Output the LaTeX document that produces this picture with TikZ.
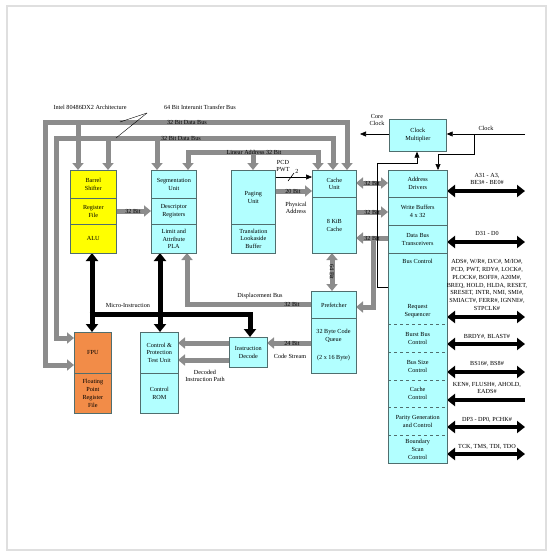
\documentclass[tikz,border=0pt]{standalone}
\usepackage{fontspec}
\setmainfont{Liberation Serif}
\usetikzlibrary{arrows.meta,calc}
\definecolor{cy}{RGB}{178,255,255}
\definecolor{yl}{RGB}{255,255,0}
\definecolor{orng}{RGB}{242,140,72}
\definecolor{bord}{RGB}{80,110,110}
\definecolor{busc}{RGB}{140,140,140}
\tikzset{
  GT/.tip={Triangle[width=11pt,length=7pt]},
  BT/.tip={Triangle[width=12pt,length=8pt]},
  TT/.tip={Triangle[width=5pt,length=6pt]},
}
\begin{document}
\begin{tikzpicture}[x=1pt,y=-1pt,
  every node/.style={font=\fontsize{6.2}{7.7}\selectfont, inner sep=0pt, align=center},
  sec/.style={draw=bord, line width=0.7pt, anchor=north west},
  nsec/.style={anchor=north west},
  gbus/.style={draw=busc, line width=5pt},
  kbus/.style={draw=black, line width=5pt},
  kio/.style={draw=black, line width=4pt},
  thin/.style={draw=black, line width=0.6pt},
]
\useasboundingbox (0,0) rectangle (553,557);
\draw[gray!25, line width=1.4pt] (7,6) rectangle (546,550);

% ---------- grey buses ----------
\coordinate (o1) at (45,122);
\coordinate (o2) at (347,122);
\coordinate (o3) at (45,365);
\coordinate (i1) at (56,138);
\coordinate (i2) at (333,138);
\coordinate (i3) at (56,338);
\coordinate (la1) at (188,152);
\coordinate (la2) at (318,152);

\draw[gbus, GT-GT] (74,365) -- (o3) -- (o1) -- (o2) -- (347,170);
\draw[gbus, -GT] (78,122) -- (78,170);
\draw[gbus, GT-GT] (74,338) -- (i3) -- (i1) -- (i2) -- (333,170);
\draw[gbus, -GT] (108,138) -- (108,170);
\draw[gbus, -GT] (157,138) -- (157,170);
\draw[gbus, GT-GT] (188,170) -- (la1) -- (la2) -- (318,170);
\draw[gbus, -GT] (253,152) -- (253,170);

\draw[gbus, -GT] (116,211) -- (151,211);
\draw[gbus, -GT] (275,191) -- (312,191);
\draw[gbus, GT-GT] (356,183) -- (388,183);
\draw[gbus, -GT] (356,212) -- (388,212);
\draw[gbus, -GT] (388,238) -- (356,238);
\draw[gbus, -GT] (373,238) -- (373,307) -- (356,307);
\draw[gbus, GT-GT] (332,253) -- (332,291);
\draw[gbus, -GT] (311,304) -- (187,304) -- (187,253);
\draw[gbus, -GT] (311,343) -- (267,343);
\draw[gbus, -GT] (229,343) -- (178,343);
\draw[gbus, -GT] (229,360) -- (178,360);

% ---------- black buses ----------
\draw[kbus, BT-BT] (92,253) -- (92,332);
\draw[kbus, BT-BT] (160,253) -- (160,332);
\draw[kbus, -BT] (89.5,314) -- (250,314) -- (250,337);

% right side I/O
\draw[kio, BT-BT] (447,191) -- (525,191);
\draw[kio, BT-BT] (447,242) -- (525,242);
\draw[kio, BT-BT] (447,317) -- (525,317);
\draw[kio, BT-BT] (447,344) -- (525,344);
\draw[kio, BT-BT] (447,372) -- (525,372);
\draw[kio, -BT] (525,400) -- (447,400);
\draw[kio, BT-BT] (447,427) -- (525,427);
\draw[kio, BT-BT] (447,454) -- (525,454);

% ---------- boxes ----------
\node[sec, fill=yl, minimum width=46pt, minimum height=28pt] (bs) at (70,170) {Barrel\\Shifter};
\node[sec, fill=yl, minimum width=46pt, minimum height=26pt] (rf) at (70,198) {Register\\File};
\node[sec, fill=yl, minimum width=46pt, minimum height=29pt] (alu) at (70,224) {ALU};
\node[sec, fill=cy, minimum width=45pt, minimum height=28pt] (su) at (151,170) {Segmentation\\Unit};
\node[sec, fill=cy, minimum width=45pt, minimum height=26pt] (dr) at (151,198) {Descriptor\\Registers};
\node[sec, fill=cy, minimum width=45pt, minimum height=29pt] (pla) at (151,224) {Limit and\\Attribute\\PLA};
\node[sec, fill=cy, minimum width=44pt, minimum height=54pt] (pu) at (231,170) {Paging\\Unit};
\node[sec, fill=cy, minimum width=44pt, minimum height=29pt] (tlb) at (231,224) {Translation\\Lookaside\\Buffer};
\node[sec, fill=cy, minimum width=44pt, minimum height=27pt] (cu) at (312,170) {Cache\\Unit};
\node[sec, fill=cy, minimum width=44pt, minimum height=56pt] (cc) at (312,197) {8 KiB\\Cache};
\node[sec, fill=cy, minimum width=45pt, minimum height=27pt] (pf) at (311,291) {Prefetcher};
\node[sec, fill=cy, minimum width=45pt, minimum height=55pt] (cq) at (311,318) {};
\node (cqt) at (333.5,336) {32 Byte Code\\Queue};
\node (cqs) at (333.5,358) {(2 x 16 Byte)};
\node[sec, fill=cy, minimum width=38pt, minimum height=30pt] (id) at (229,337) {Instruction\\Decode};
\node[sec, fill=cy, minimum width=38pt, minimum height=41pt] (cp) at (140,332) {Control \&\\Protection\\Test Unit};
\node[sec, fill=cy, minimum width=38pt, minimum height=40pt] (rom) at (140,373) {Control\\ROM};
\node[sec, fill=orng, minimum width=37pt, minimum height=41pt] (fpu) at (74,332) {FPU};
\node[sec, fill=orng, minimum width=37pt, minimum height=40pt] (fprf) at (74,373) {Floating\\Point\\Register\\File};
\node[sec, fill=cy, minimum width=57pt, minimum height=32pt] (cm) at (389,119) {Clock\\Multiplier};

\fill[cy] (388,170) rectangle (447,463);
\node[nsec, minimum width=59pt, minimum height=27pt] (ad) at (388,170) {Address\\Drivers};
\node[nsec, minimum width=59pt, minimum height=28pt] (wb) at (388,197) {Write Buffers\\4 x 32};
\node[nsec, minimum width=59pt, minimum height=28pt] (dbt) at (388,225) {Data Bus\\Transceivers};
\node[nsec, minimum width=59pt, minimum height=71pt] (bc) at (388,253) {};
\node (bct) at (417.5,261) {Bus Control};
\node (rst) at (417.5,311) {Request\\Sequencer};
\node[nsec, minimum width=59pt, minimum height=28pt] (bbc) at (388,324) {Burst Bus\\Control};
\node[nsec, minimum width=59pt, minimum height=28pt] (bsc) at (388,352) {Bus Size\\Control};
\node[nsec, minimum width=59pt, minimum height=27pt] (ccl) at (388,380) {Cache\\Control};
\node[nsec, minimum width=59pt, minimum height=28pt] (pgc) at (388,407) {Parity Generation\\and Control};
\node[nsec, minimum width=59pt, minimum height=28pt] (bsn) at (388,435) {Boundary\\Scan\\Control};
\draw[bord, line width=0.7pt] (388,170) rectangle (447,463);
\draw[bord, line width=0.7pt] (ad.south west) -- (ad.south east)
  (wb.south west) -- (wb.south east) (dbt.south west) -- (dbt.south east);
\draw[bord, line width=0.5pt, dashed] (bc.south west) -- (bc.south east)
  (bbc.south west) -- (bbc.south east) (bsc.south west) -- (bsc.south east)
  (ccl.south west) -- (ccl.south east) (pgc.south west) -- (pgc.south east);

% ---------- thin connectors ----------
\draw[thin, -TT] (pu.east |- 0,177) -- (cu.west |- 0,177);
\draw[thin] (288,181) -- (294,173);
\node (pcd) at (283,162) {PCD};
\node (pwt) at (283,170) {PWT};
\node (two) at (297,171) {2};
\coordinate (ccl1) at (360,134);
\draw[thin, -TT] (cm.west |- 0,134) -- (ccl1);
\coordinate (clkin) at (525,134);
\draw[thin, -TT] (clkin) -- (cm.east |- 0,134);
\draw[thin, -TT] (474,134) -- (474,154) -- (438,154) -- (ad.north -| 438,0);
\draw[thin, -TT] (bc.west |- 0,287) -- (377,287) -- (377,163) -- (417,163) -- (cm.south -| 417,0);
\coordinate (lead) at (147,113);
\draw[thin, line width=0.4pt] (lead) -- (120,122);
\draw[thin, line width=0.4pt] (lead) -- (116,138);

% ---------- labels ----------
\node (t1) at (90,107) {Intel 80486DX2 Architecture};
\node (t2) at (200,107) {64 Bit Interunit Transfer Bus};
\node (db1) at (187,122) {32 Bit Data Bus};
\node (db2) at (181,138) {32 Bit Data Bus};
\node (lab) at (254,152) {Linear Address 32 Bit};
\node (b1) at (133,211) {32 Bit};
\node (b2) at (293,191) {20 Bit};
\node (b3) at (372,183) {32 Bit};
\node (b4) at (372,212) {32 Bit};
\node (b5) at (372,238) {32 Bit};
\node[rotate=-90] (b6) at (332,272) {64 Bit};
\node (b7) at (292,304) {32 Bit};
\node (b8) at (292,343) {24 Bit};
\node (phy) at (296,208) {Physical\\Address};
\node (disp) at (260,296) {Displacement Bus};
\node (micro) at (128,305) {Micro-Instruction};
\node (dec) at (205,376) {Decoded\\Instruction Path};
\node (cs) at (290,356) {Code Stream};
\node (core) at (377,120) {Core\\Clock};
\node (clk) at (486,128) {Clock};
\node (s1) at (487,179) {A31 - A3,\\BE3\# - BE0\#};
\node (s2) at (487,233) {D31 - D0};
\node (s3) at (487,285) {ADS\#, W/R\#, D/C\#, M/IO\#,\\PCD, PWT, RDY\#, LOCK\#,\\PLOCK\#, BOFF\#, A20M\#,\\BREQ, HOLD, HLDA, RESET,\\SRESET, INTR, NMI, SMI\#,\\SMIACT\#, FERR\#, IGNNE\#,\\STPCLK\#};
\node (s4) at (487,337) {BRDY\#, BLAST\#};
\node (s5) at (487,364) {BS16\#, BS8\#};
\node (s6) at (487,388) {KEN\#, FLUSH\#, AHOLD,\\EADS\#};
\node (s7) at (487,420) {DP3 - DP0, PCHK\#};
\node (s8) at (487,447) {TCK, TMS, TDI, TDO};
\end{tikzpicture}
\end{document}
